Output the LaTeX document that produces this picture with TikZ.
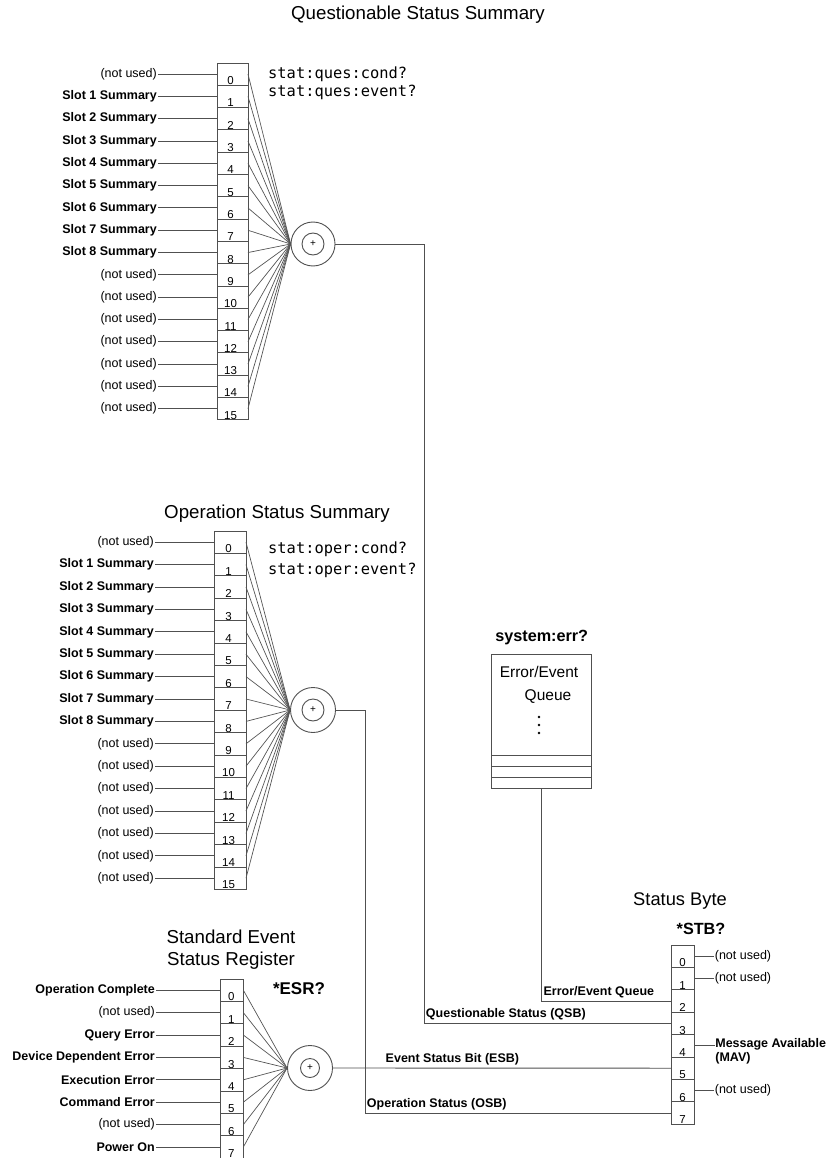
\documentclass[tikz,border=0pt]{standalone}
\usepackage{fontspec}
\setmainfont{Liberation Sans}
\newfontfamily\cmdfont{DejaVu Sans Mono}
\usetikzlibrary{positioning}
\definecolor{linegray}{HTML}{505050}
\definecolor{fangray}{HTML}{555555}
\newcommand{\nused}{(not used)}
\newcommand{\slotsum}[1]{\textbf{Slot #1 Summary}}

\begin{document}
\begin{tikzpicture}[x=1pt, y=-1pt,
    bitcell/.style={draw=linegray, line width=0.9pt, minimum width=31pt, minimum height=22.3pt, inner sep=0pt, outer sep=0pt},
    bitnum/.style={anchor=base, inner sep=0pt, yshift=0.6pt, font=\fontsize{11.5}{12}\selectfont},
    sumring/.style={circle, draw=linegray, line width=0.9pt, minimum size=44pt, inner sep=0pt},
    sumdot/.style={circle, draw=linegray, line width=0.9pt, minimum size=22pt, inner sep=0pt, font=\fontsize{10}{11}\selectfont},
    inlabel/.style={anchor=east, inner sep=1pt, font=\fontsize{12.5}{14}\selectfont},
    outlabel/.style={anchor=west, inner sep=0.5pt, font=\fontsize{12.5}{14}\selectfont},
    buslabel/.style={inner xsep=1.5pt, inner ysep=2.5pt, font=\bfseries\fontsize{12.5}{14}\selectfont},
    title/.style={inner sep=0pt, align=center, font=\fontsize{18.7}{22}\selectfont},
    cmd/.style={anchor=west, inner sep=0pt, align=left, font=\cmdfont\fontsize{15.4}{18}\selectfont},
    bhead/.style={inner sep=0pt, font=\bfseries\fontsize{16.2}{18}\selectfont},
    wire/.style={draw=linegray, line width=0.9pt},
    fan/.style={draw=fangray, line width=0.7pt}]

    \useasboundingbox (0,0) rectangle (838,1158);

    % Questionable Status Summary
    \node[title] (qtitle) at (418,15) {Questionable Status Summary};
    \node[cmd] (qcmd) at (268,83) {stat:ques:cond?\\stat:ques:event?};
    \node[sumring] (qsum) at (313,244) {};
    \node[sumdot] (qdot) at (qsum) {+};
    \foreach \i in {0,...,15} {
        \ifnum\i>0 \ifnum\i<9 \def\lbl{\slotsum{\i}}\else\def\lbl{\nused}\fi\else\def\lbl{\nused}\fi
        \node[bitcell] (q\i) at (232.5,{63+22.3*(\i+0.5)}) {};
        \node[bitnum] (qn\i) at ([xshift=-2pt]q\i.south) {\i};
        \node[inlabel, left=59pt of q\i.west] (ql\i) {\lbl};
        \draw[wire] (ql\i.east) -- (q\i.west);
        \draw[fan] (q\i.east) -- (qsum.west);
    }

    % Operation Status Summary
    \node[title] (otitle) at (277,514) {Operation Status Summary};
    \node[cmd, font=\cmdfont\fontsize{15.4}{20.5}\selectfont] (ocmd) at (268,559.5) {stat:oper:cond?\\stat:oper:event?};
    \node[sumring, minimum size=45pt] (osum) at (313,710) {};
    \node[sumdot] (odot) at (osum) {+};
    \foreach \i in {0,...,15} {
        \ifnum\i>0 \ifnum\i<9 \def\lbl{\slotsum{\i}}\else\def\lbl{\nused}\fi\else\def\lbl{\nused}\fi
        \node[bitcell, minimum width=32pt, minimum height=22.4pt] (o\i) at (230,{531+22.4*(\i+0.5)}) {};
        \node[bitnum] (on\i) at ([xshift=-1.5pt]o\i.south) {\i};
        \node[inlabel, left=59pt of o\i.west] (ol\i) {\lbl};
        \draw[wire] (ol\i.east) -- (o\i.west);
        \draw[fan] (o\i.east) -- (osum.west);
    }

    % Standard Event Status Register
    \node[title] (etitle) at (231,950) {Standard Event\\Status Register};
    \node[bhead, font=\bfseries\fontsize{17}{19}\selectfont] (ecmd) at (299,989) {*ESR?};
    \node[sumring, minimum size=45pt] (esum) at (310,1068) {};
    \node[sumdot, minimum size=19pt] (edot) at (esum) {+};
    \foreach \i/\lbl in {0/\textbf{Operation Complete}, 1/\nused, 2/\textbf{Query Error},
        3/\textbf{Device Dependent Error}, 4/\textbf{Execution Error}, 5/\textbf{Command Error},
        6/\nused, 7/\textbf{Power On}} {
        \node[bitcell, minimum width=23.3pt, minimum height=22.4pt] (e\i) at (231.7,{979+22.4*(\i+0.5)}) {};
        \node[bitnum] (en\i) at ([xshift=-0.5pt]e\i.south) {\i};
        \node[inlabel, left=64pt of e\i.west] (el\i) {\lbl};
        \draw[wire] (el\i.east) -- (e\i.west);
        \draw[fan] (e\i.east) -- (esum.west);
    }

    % Error/Event Queue
    \node[bhead] (errcmd) at (541.7,638) {system:err?};
    \node[draw=linegray, line width=0.9pt, minimum width=100pt, minimum height=134.3pt, inner sep=0pt] (equeue) at (541.7,721.2) {};
    \node[inner sep=0pt, font=\fontsize{15.5}{17}\selectfont] (eqtxt) at (539,672) {Error/Event};
    \node[inner sep=0pt, font=\fontsize{15.5}{17}\selectfont] (eqtxtb) at (548,697) {Queue};
    \foreach \d in {717,725,733} \fill (539,\d) circle (1.3pt);
    \foreach \d in {11.3,22.3,33.3} \draw[wire] ([yshift=\d pt]equeue.south west) -- ([yshift=\d pt]equeue.south east);

    % Status Byte
    \node[title, font=\fontsize{18.3}{20}\selectfont] (stitle) at (680,901) {Status Byte};
    \node[bhead] (scmd) at (701,929) {*STB?};
    \foreach \i in {0,...,7} {
        \node[bitcell, minimum width=22.3pt, minimum height=22.4pt] (s\i) at (683,{945+22.4*(\i+0.5)}) {};
        \node[bitnum] (sn\i) at ([xshift=-0.5pt]s\i.south) {\i};
    }
    \foreach \i in {0,1,6} {
        \node[outlabel, right=20pt of s\i.east] (sr\i) {\nused};
        \draw[wire] (s\i.east) -- (sr\i.west);
    }
    \node[outlabel, anchor=north west, align=left, font=\bfseries\fontsize{12.5}{14}\selectfont] (sr4) at ([xshift=20.5pt, yshift=8pt]s4.east) {Message Available\\(MAV)};
    \draw[wire] (s4.east) -- (s4.east -| sr4.west);

    % Summary bits into the Status Byte
    \coordinate (qbend) at (424,244);
    \coordinate (obend) at (365,710);
    \draw[wire] (qsum.east) -- (qbend) |- (s3.west) node[buslabel, pos=0.5, above right] {Questionable Status (QSB)};
    \draw[wire] (osum.east) -- (obend) |- (s7.west) node[buslabel, pos=0.5, above right] {Operation Status (OSB)};
    \draw[wire] (equeue.south) |- (s2.west) node[buslabel, pos=0.5, above right] {Error/Event Queue};
    \draw[wire] (esum.east) -- (s5.west) node[buslabel, pos=0.15, above right] {Event Status Bit (ESB)};
\end{tikzpicture}
\end{document}
